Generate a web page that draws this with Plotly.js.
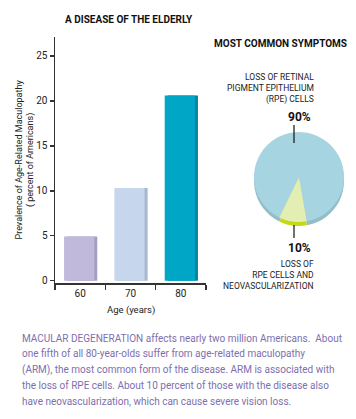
<!DOCTYPE html>
<html>
<head>
<meta charset="utf-8">
<script src="https://cdn.plot.ly/plotly-3.0.1.min.js"></script>
<style>html,body{margin:0;padding:0;background:#fff;}#chart{width:356px;height:419px;}</style>
</head>
<body>
<div id="chart"></div>
<script>
// ---- data ----
const ageGroups = ['60', '70', '80'];
const prevalence = [4.9, 10.3, 20.6];
const symptomLabels = ['Loss of RPE cells', 'Loss of RPE cells and neovascularization'];
const symptomShares = [90, 10];
const yTicks = [0, 5, 10, 15, 20, 25];

// ---- styling ----
const W = 356, H = 419;
const X = px => px / W;
const Y = py => 1 - py / H;
const FONT = 'Roboto, "Liberation Sans", sans-serif';
const frontColors = ['#c1b9db', '#c6d6ec', '#00a6c6'];
const sideColors = ['#a59dc2', '#a7b7cf', '#00849f'];

const sideBars = {
  type: 'bar', x: ageGroups, y: prevalence,
  offset: -0.26, width: 0.6,
  marker: {color: sideColors, line: {width: 0}},
  hoverinfo: 'skip', showlegend: false
};
const frontBars = {
  type: 'bar', x: ageGroups, y: prevalence,
  offset: -0.32, width: 0.6,
  marker: {color: frontColors, line: {width: 0}},
  showlegend: false
};

const PIE_ROT = 206;
const pieDom = {x: [X(254), X(344)], y: [Y(222), Y(132)]};
const rimPie = {
  type: 'pie', values: symptomShares, labels: symptomLabels,
  sort: false, direction: 'clockwise', rotation: PIE_ROT,
  domain: {x: pieDom.x, y: [Y(226), Y(136)]},
  marker: {colors: ['#93bdc9', '#c3da12'], line: {width: 0}},
  textinfo: 'none', hoverinfo: 'skip', showlegend: false
};
const topPie = {
  type: 'pie', values: symptomShares, labels: symptomLabels,
  sort: false, direction: 'clockwise', rotation: PIE_ROT,
  domain: pieDom,
  marker: {colors: ['#a6d4e1', '#e3efb2'], line: {width: 0}},
  textinfo: 'none', showlegend: false
};

const caption = [
  'MACULAR DEGENERATION affects nearly two million Americans.  About',
  'one fifth of all 80-year-olds suffer from age-related maculopathy',
  '(ARM), the most common form of the disease. ARM is associated with',
  'the loss of RPE cells. About 10 percent of those with the disease also',
  'have neovascularization, which can cause severe vision loss.'
];
const capColor = '#7d6fae';

const ann = [
  {text: '<b>A DISEASE OF THE ELDERLY</b>', x: X(129), y: Y(20), font: {size: 10, color: '#111'}},
  {text: '<b>MOST COMMON SYMPTOMS</b>', x: X(280), y: Y(43), font: {size: 10, color: '#111'}},
  {text: 'LOSS OF RETINAL<br>PIGMENT EPITHELIUM<br>(RPE) CELLS', x: X(316), y: Y(89), xanchor: 'right', align: 'right', font: {size: 8.5, color: '#222'}},
  {text: '<b>90%</b>', x: X(299), y: Y(117), font: {size: 12, color: '#111'}},
  {text: '<b>10%</b>', x: X(299), y: Y(248), font: {size: 12, color: '#111'}},
  {text: 'LOSS OF<br>RPE CELLS AND<br>NEOVASCULARIZATION', x: X(316), y: Y(275), xanchor: 'right', align: 'right', font: {size: 8.5, color: '#222'}},
  {text: 'Prevalence of Age-Related Maculopathy<br>( percent of Americans)', x: X(25.5), y: Y(160), textangle: -90, font: {size: 9, color: '#222'}},
  {text: 'Age (years)', x: X(131), y: Y(310), font: {size: 9.5, color: '#222'}}
].map(a => Object.assign({xref: 'paper', yref: 'paper', showarrow: false, xanchor: 'center', yanchor: 'middle', font: {}}, a));
ann.forEach(a => { a.font = Object.assign({family: FONT}, a.font); });
caption.forEach((line, i) => {
  ann.push({
    text: line,
    xref: 'paper', yref: 'paper', x: X(20), y: Y(338 + i * 15.8),
    xanchor: 'left', yanchor: 'middle', showarrow: false,
    font: {family: FONT, size: 10, color: capColor}
  });
});

const layout = {
  width: W, height: H,
  margin: {l: 0, r: 0, t: 0, b: 0},
  paper_bgcolor: '#fff', plot_bgcolor: 'rgba(0,0,0,0)',
  barmode: 'overlay',
  font: {family: FONT, color: '#222'},
  xaxis: {
    domain: [X(55), X(206)], type: 'category',
    showline: true, linecolor: '#333', linewidth: 1.5,
    ticks: 'outside', tickson: 'boundaries', ticklen: 5, tickcolor: '#333', tickwidth: 1.5,
    tickfont: {family: FONT, size: 10, color: '#222'},
    showgrid: false, zeroline: false, fixedrange: true
  },
  yaxis: {
    domain: [Y(283), Y(37)], range: [-0.26, 27.1],
    tickvals: yTicks, ticktext: yTicks.map(String),
    showline: true, linecolor: '#333', linewidth: 1.5,
    ticks: 'outside', ticklen: 4, tickcolor: '#333', tickwidth: 1.5,
    tickfont: {family: FONT, size: 10, color: '#222'},
    showgrid: false, zeroline: false, fixedrange: true
  },
  shapes: [
    {type: 'line', xref: 'paper', yref: 'paper', x0: X(294), x1: X(294), y0: Y(125), y1: Y(143), line: {color: '#111', width: 1.2}},
    {type: 'line', xref: 'paper', yref: 'paper', x0: X(294), x1: X(294), y0: Y(225), y1: Y(238), line: {color: '#111', width: 1.2}}
  ],
  annotations: ann
};

Plotly.newPlot('chart', [sideBars, frontBars, rimPie, topPie], layout, {displayModeBar: false, staticPlot: true});
</script>
</body>
</html>
